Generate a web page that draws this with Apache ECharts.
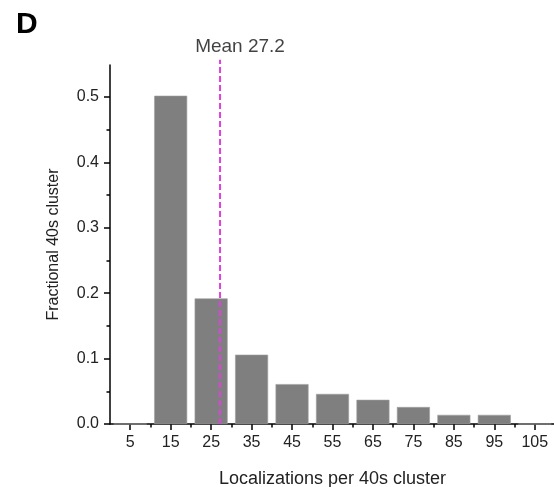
<!DOCTYPE html>
<html><head><meta charset="utf-8">
<script src="https://cdn.jsdelivr.net/npm/echarts@6/dist/echarts.min.js"></script>
<style>html,body{margin:0;padding:0;background:#fff}#c{width:554px;height:487px}</style>
</head><body><div id="c"></div>
<script>
const binCenters = [5, 15, 25, 35, 45, 55, 65, 75, 85, 95, 105];
const fractions = [0, 0.502, 0.192, 0.106, 0.061, 0.046, 0.037, 0.026, 0.014, 0.014, 0];
const xTickLabels = [5, 15, 25, 35, 45, 55, 65, 75, 85, 95, 105];
const xMinorTicks = [10, 20, 30, 40, 50, 60, 70, 80, 90, 100];
const yTicks = [0, 0.1, 0.2, 0.3, 0.4, 0.5];
const yMinorTicks = [0.05, 0.15, 0.25, 0.35, 0.45, 0.55];
const meanValue = 27.2;
const meanLineY = [0, 0.557];

const FONT = 'Liberation Sans, Arial, sans-serif';
const chart = echarts.init(document.getElementById('c'), null, {renderer: 'canvas'});
chart.setOption({
  animation: false,
  textStyle: {fontFamily: FONT},
  title: {text: 'D', left: 11, top: 5, textStyle: {fontSize: 30, fontWeight: 'bold', color: '#000', fontFamily: FONT}},
  grid: {left: 110, right: -1, top: 65, bottom: 63, containLabel: false, outerBoundsMode: 'none'},
  xAxis: [{
    type: 'value', min: 0, max: 110,
    name: 'Localizations per 40s cluster', nameLocation: 'middle', nameGap: 46,
    nameTextStyle: {fontSize: 18, color: '#222', fontFamily: FONT},
    axisLine: {lineStyle: {color: '#000', width: 1.5}},
    axisTick: {show: true, customValues: xTickLabels, length: 6, lineStyle: {color: '#000', width: 1.5}},
    axisLabel: {customValues: xTickLabels, fontSize: 16, color: '#222', margin: 11, fontFamily: FONT},
    splitLine: {show: false}
  }, {
    type: 'value', min: 0, max: 110, position: 'bottom',
    axisLine: {show: false},
    axisTick: {show: true, customValues: xMinorTicks, length: 3.5, lineStyle: {color: '#000', width: 1.5}},
    axisLabel: {show: false}, splitLine: {show: false}
  }],
  yAxis: [{
    type: 'value', min: 0, max: 0.549,
    name: 'Fractional 40s cluster', nameLocation: 'middle', nameGap: 48,
    nameTextStyle: {fontSize: 16, color: '#222', fontFamily: FONT},
    axisLine: {show: true, lineStyle: {color: '#000', width: 1.5}},
    axisTick: {show: true, customValues: yTicks, length: 6, lineStyle: {color: '#000', width: 1.5}},
    axisLabel: {customValues: yTicks, fontSize: 16, color: '#222', margin: 11, fontFamily: FONT,
      formatter: v => v.toFixed(1)},
    splitLine: {show: false}
  }, {
    type: 'value', min: 0, max: 0.549, position: 'left',
    axisLine: {show: false},
    axisTick: {show: true, customValues: yMinorTicks, length: 3.5, lineStyle: {color: '#000', width: 1.5}},
    axisLabel: {show: false}, splitLine: {show: false}
  }],
  series: [{
    type: 'bar', xAxisIndex: 0, yAxisIndex: 0,
    data: binCenters.map((x, i) => [x, fractions[i]]),
    barWidth: 33,
    itemStyle: {color: '#7f7f7f', borderColor: '#a0a0a0', borderWidth: 0.6}
  }, {
    type: 'line', xAxisIndex: 0, yAxisIndex: 0, clip: false,
    data: meanLineY.map(y => [meanValue, y]),
    symbol: 'none',
    lineStyle: {color: '#e040e0', width: 2, type: [6, 3]}
  }, {
    type: 'scatter', xAxisIndex: 0, yAxisIndex: 0, clip: false,
    data: [[meanValue, meanLineY[1]]],
    symbolSize: 2,
    itemStyle: {color: 'rgba(0,0,0,0)'},
    label: {show: true, position: 'top', distance: 3, offset: [20, 0], formatter: 'Mean ' + meanValue,
      fontSize: 19, color: '#111', fontFamily: FONT}
  }]
});
</script></body></html>
